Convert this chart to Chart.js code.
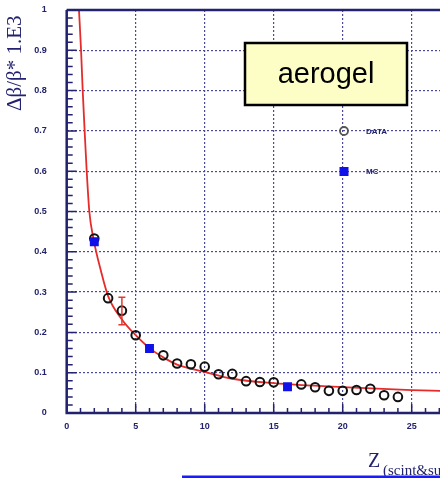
<!DOCTYPE html>
<html>
<head>
<meta charset="utf-8">
<script src="https://cdn.jsdelivr.net/npm/chart.js@4.4.1/dist/chart.umd.min.js"></script>
<style>
  html, body { margin: 0; padding: 0; background: #fff; }
  #wrap { width: 440px; height: 478px; }
</style>
</head>
<body>
<div id="wrap"><canvas id="grafico" width="440" height="478"></canvas></div>
<script>
/* datos */
const dataZ   = [2, 3, 4, 5, 7, 8, 9, 10, 11, 12, 13, 14, 15, 17, 18, 19, 20, 21, 22, 23, 24];
const dataVal = [0.433, 0.285, 0.254, 0.193, 0.143, 0.123, 0.121, 0.115, 0.096, 0.097, 0.079,
                 0.077, 0.076, 0.071, 0.064, 0.055, 0.055, 0.057, 0.06, 0.044, 0.04];

const mcZ   = [2, 6, 16];
const mcVal = [0.425, 0.16, 0.065];

// curva de ajuste (roja)
const fitZ   = [0.89, 1.04, 1.16, 1.3, 1.45, 1.64, 1.93, 2.5, 3, 4, 5, 6, 7, 8, 10, 12, 15, 20, 25, 27.2];
const fitVal = [1.0, 0.9, 0.8, 0.7, 0.6, 0.5, 0.434, 0.35, 0.29, 0.232, 0.193, 0.161, 0.138, 0.12,
                0.102, 0.085, 0.074, 0.064, 0.057, 0.055];

// barra de error
const errZ    = [4];
const errLow  = [0.219];
const errHigh = [0.287];

const xTicks = [0, 5, 10, 15, 20, 25];
const yTicks = [0, 0.1, 0.2, 0.3, 0.4, 0.5, 0.6, 0.7, 0.8, 0.9, 1];

const NAVY = "#22226e";
const GRID = "#4a4a96";

function pares(xs, ys) {
    return xs.map((x, i) => ({ x: x, y: ys[i] }));
}

/* dibujo extra: marco, ticks hacia dentro, error, textos */
const extras = {
    id: "extras",
    afterDatasetsDraw(chart) {
        const ctx = chart.ctx;
        const xs = chart.scales.x;
        const ys = chart.scales.y;

        // barra de error
        ctx.save();
        ctx.strokeStyle = "#e23a2e";
        ctx.lineWidth = 1.5;
        errZ.forEach((z, i) => {
            const px = xs.getPixelForValue(z);
            const y1 = ys.getPixelForValue(errLow[i]);
            const y2 = ys.getPixelForValue(errHigh[i]);
            ctx.beginPath();
            ctx.moveTo(px, y1); ctx.lineTo(px, y2);
            ctx.moveTo(px - 3.5, y1); ctx.lineTo(px + 3.5, y1);
            ctx.moveTo(px - 3.5, y2); ctx.lineTo(px + 3.5, y2);
            ctx.stroke();
        });
        ctx.restore();
    },
    afterDraw(chart) {
        const ctx = chart.ctx;
        const xs = chart.scales.x;
        const ys = chart.scales.y;
        const a = chart.chartArea;

        ctx.save();
        // marco
        ctx.strokeStyle = NAVY;
        ctx.lineWidth = 2.5;
        ctx.beginPath();
        ctx.moveTo(a.left, a.top); ctx.lineTo(a.right, a.top);
        ctx.moveTo(a.left, a.top); ctx.lineTo(a.left, a.bottom);
        ctx.lineTo(a.right, a.bottom);
        ctx.stroke();

        // ticks menores y mayores
        ctx.lineWidth = 1.5;
        ctx.beginPath();
        for (let v = 0; v <= 27; v++) {
            const px = xs.getPixelForValue(v);
            const len = v % 5 === 0 ? 9 : 5;
            ctx.moveTo(px, a.bottom); ctx.lineTo(px, a.bottom - len);
        }
        for (let k = 0; k <= 50; k++) {
            const py = ys.getPixelForValue(k * 0.02);
            const len = k % 5 === 0 ? 10 : 6;
            ctx.moveTo(a.left, py); ctx.lineTo(a.left + len, py);
        }
        ctx.stroke();

        // titulo eje y
        ctx.save();
        ctx.translate(21, 111);
        ctx.rotate(-Math.PI / 2);
        ctx.fillStyle = NAVY;
        ctx.font = '21px "Liberation Serif", "DejaVu Serif", serif';
        ctx.textAlign = "left";
        ctx.textBaseline = "alphabetic";
        ctx.fillText("\u0394\u03B2/\u03B2* 1.E3", 0, 0);
        ctx.restore();

        // titulo eje x (cortado a la derecha)
        ctx.fillStyle = NAVY;
        ctx.textAlign = "left";
        ctx.textBaseline = "alphabetic";
        ctx.font = '20px "Liberation Serif", serif';
        ctx.fillText("Z", 368, 467);
        ctx.font = '15px "Liberation Serif", serif';
        ctx.fillText("(scint&sum)", 383, 475);

        // linea azul inferior
        ctx.fillStyle = "#1a1aff";
        ctx.fillRect(182, 475.5, 258, 3);

        // caja aerogel
        ctx.fillStyle = "#fdfdc6";
        ctx.fillRect(245, 43, 162, 62);
        ctx.strokeStyle = "#000";
        ctx.lineWidth = 2.5;
        ctx.strokeRect(245, 43, 162, 62);
        ctx.fillStyle = "#000";
        ctx.font = '29px "Liberation Sans", Arial, sans-serif';
        ctx.textAlign = "center";
        ctx.textBaseline = "middle";
        ctx.fillText("aerogel", 326, 75);

        // leyenda
        ctx.strokeStyle = "#555";
        ctx.lineWidth = 1.8;
        ctx.beginPath();
        ctx.arc(344, 131, 4, 0, Math.PI * 2);
        ctx.stroke();
        ctx.fillStyle = "#1010e8";
        ctx.fillRect(339.5, 167, 9, 9);
        ctx.fillStyle = NAVY;
        ctx.font = 'bold 8px "Liberation Sans", Arial, sans-serif';
        ctx.textAlign = "left";
        ctx.fillText("DATA", 366, 131.5);
        ctx.fillText("MC", 366, 172);
        ctx.restore();
    }
};

document.addEventListener("DOMContentLoaded", function () {
    const fuenteTicks = { family: '"Liberation Sans", Arial, sans-serif', size: 9, weight: "bold" };

    new Chart(document.getElementById("grafico"), {
        type: "scatter",
        data: {
            datasets: [
                {
                    label: "MC",
                    data: pares(mcZ, mcVal),
                    pointStyle: "rect",
                    pointRadius: 6.3,
                    backgroundColor: "#1010e8",
                    borderColor: "#1010e8",
                    borderWidth: 0,
                },
                {
                    label: "DATA",
                    data: pares(dataZ, dataVal),
                    pointStyle: "circle",
                    pointRadius: 4.3,
                    backgroundColor: "rgba(0,0,0,0)",
                    borderColor: "#111",
                    borderWidth: 2,
                },
                {
                    label: "fit",
                    data: pares(fitZ, fitVal),
                    showLine: true,
                    pointRadius: 0,
                    borderColor: "#e62b2b",
                    borderWidth: 1.8,
                    cubicInterpolationMode: "monotone",
                },
            ],
        },
        options: {
            responsive: false,
            animation: false,
            layout: { autoPadding: false, padding: { top: 10, right: 0, left: 0, bottom: 0 } },
            plugins: {
                legend: { display: false },
                tooltip: { enabled: false },
            },
            scales: {
                x: {
                    type: "linear",
                    min: 0,
                    max: 27.05,
                    afterBuildTicks: (s) => { s.ticks = xTicks.map(v => ({ value: v })); },
                    afterFit: (s) => { s.height = 65; },
                    grid: { color: GRID, lineWidth: 1.2, drawTicks: true, tickLength: 8, tickColor: "rgba(0,0,0,0)" },
                    border: { display: false, dash: [2, 2] },
                    ticks: { color: NAVY, padding: 0, font: fuenteTicks },
                },
                y: {
                    min: 0,
                    max: 1,
                    afterBuildTicks: (s) => { s.ticks = yTicks.map(v => ({ value: v })); },
                    afterFit: (s) => { s.width = 66.7; },
                    grid: { color: GRID, lineWidth: 1.2, drawTicks: true, tickLength: 20, tickColor: "rgba(0,0,0,0)" },
                    border: { display: false, dash: [2, 2] },
                    ticks: {
                        color: NAVY,
                        padding: 0,
                        font: fuenteTicks,
                        callback: (v) => String(Math.round(v * 10) / 10),
                    },
                },
            },
        },
        plugins: [extras],
    });
});
</script>
</body>
</html>
